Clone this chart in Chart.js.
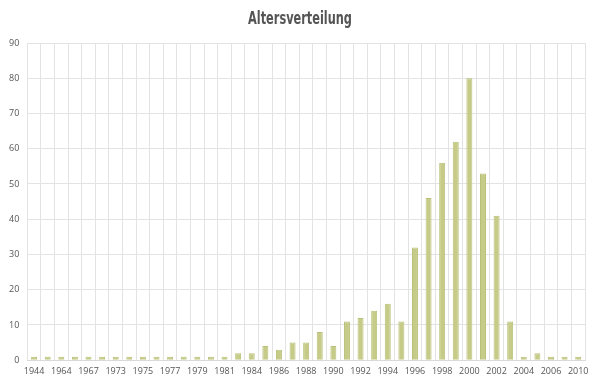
<!DOCTYPE html>
<html>
<head>
<meta charset="utf-8">
<script src="https://cdn.jsdelivr.net/npm/chart.js@4"></script>
<style>
  html, body { margin: 0; padding: 0; background: #fff; }
  #wrap { position: relative; width: 600px; height: 387px; }
  /* schmale Überschrift wie im Original */
  #title {
    position: absolute; left: 0; top: 7px; width: 600px; text-align: center;
    font-family: 'DejaVu Sans Condensed', 'DejaVu Sans', sans-serif;
    font-weight: bold; font-size: 18px; color: #555;
    transform: scaleX(0.7); transform-origin: 300px 0;
  }
</style>
</head>
<body>
<div id="wrap">
  <div id="title">Altersverteilung</div>
  <canvas id="chart"></canvas>
</div>
<script>
// Jahrgänge (jede zweite Beschriftung wird angezeigt)
const years = ["1944", "1958", "1964", "1966", "1967", "1970", "1973", "1974", "1975", "1976",
    "1977", "1978", "1979", "1980", "1981", "1983", "1984", "1985", "1986", "1987",
    "1988", "1989", "1990", "1991", "1992", "1993", "1994", "1995", "1996", "1997",
    "1998", "1999", "2000", "2001", "2002", "2003", "2004", "2005", "2006", "2008", "2010"];

// Anzahl pro Jahrgang
const counts = [1, 1, 1, 1, 1, 1, 1, 1, 1, 1,
    1, 1, 1, 1, 1, 2, 2, 4, 3, 5,
    5, 8, 4, 11, 12, 14, 16, 11, 32, 46,
    56, 62, 80, 53, 41, 11, 1, 2, 1, 1, 1];

const yTicks = [0, 10, 20, 30, 40, 50, 60, 70, 80, 90];

const ctx = document.getElementById("chart").getContext("2d");
const chart = new Chart(ctx, {
    type: "bar",
    data: {
        labels: years,
        datasets: [{
            label: "Altersverteilung",
            data: counts,
            backgroundColor: "#c6cc88",
            borderColor: "#b9c07a",
            borderWidth: 1,
            categoryPercentage: 1,
            barPercentage: 0.44
        }]
    },
    options: {
        responsive: true,
        maintainAspectRatio: false,
        animation: false,
        layout: { padding: { left: 1, right: 15, top: 43, bottom: 4 } },
        plugins: {
            legend: { display: false },
            tooltip: { enabled: false },
            title: { display: false }
        },
        scales: {
            x: {
                grid: { color: "#e3e3e3", offset: true, drawTicks: false },
                border: { color: "#d9d9d9" },
                ticks: {
                    autoSkip: false,
                    maxRotation: 0,
                    color: "#555",
                    padding: 6,
                    font: { family: "'Open Sans', sans-serif", size: 9 },
                    // nur jede zweite Jahreszahl
                    callback: function(val, i) { return i % 2 === 0 ? years[i] : ""; }
                }
            },
            y: {
                min: yTicks[0],
                max: yTicks[yTicks.length - 1],
                afterBuildTicks: function(axis) { axis.ticks = yTicks.map(v => ({ value: v })); },
                grid: { color: "#e3e3e3", drawTicks: false },
                border: { display: false },
                ticks: {
                    color: "#555",
                    padding: 8,
                    font: { family: "'Open Sans', sans-serif", size: 9 }
                }
            }
        }
    }
});
</script>
</body>
</html>
